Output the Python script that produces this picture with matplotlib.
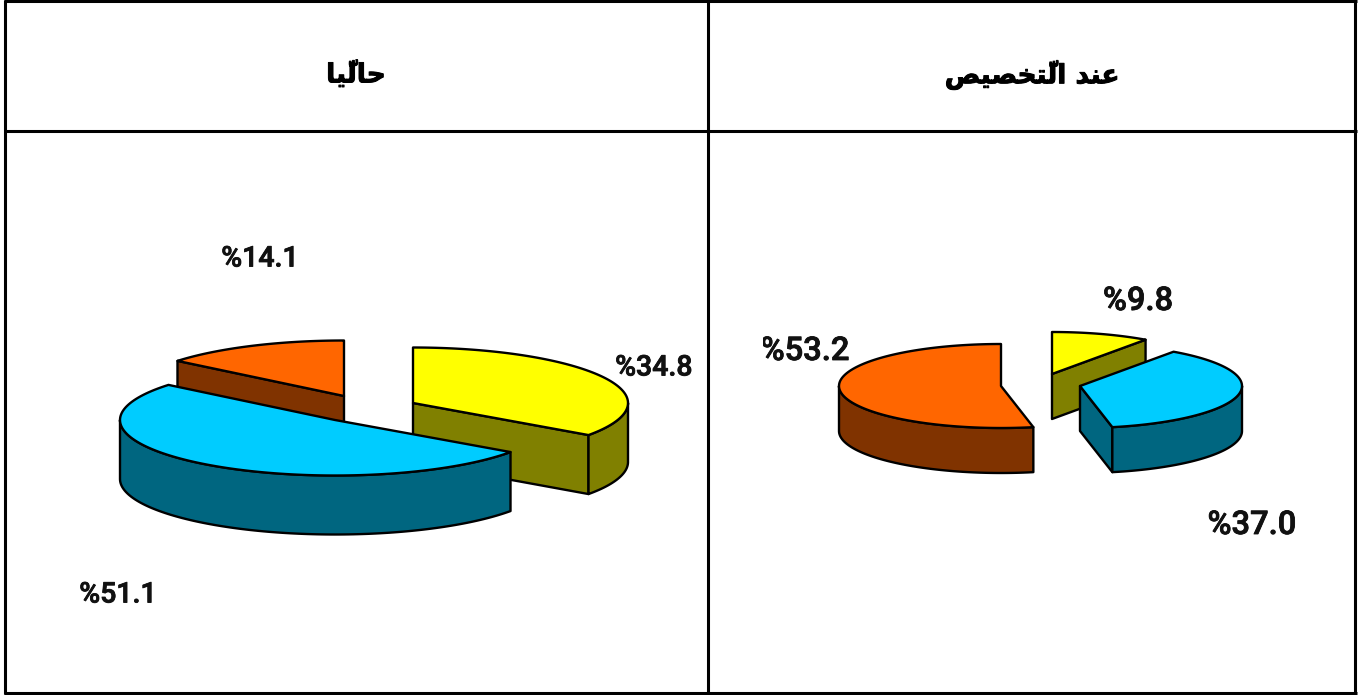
import numpy as np
import matplotlib
matplotlib.use('Agg')
import matplotlib.pyplot as plt
import matplotlib.patheffects as pe
from matplotlib.patches import Polygon
from matplotlib.transforms import Bbox

# share of each slice, same order in both pies
slice_names = ['yellow', 'blue', 'orange']
values_now = [34.8, 51.1, 14.1]
values_start = [9.8, 37.0, 53.2]

# headers are written in shaped presentation forms, left to right, since matplotlib does no shaping
title_now = '\ufe8e\ufef4\u0651\ufedf\ufe8e\ufea3'
title_start = '\ufeba\ufef4\ufebc\ufea8\ufe98\u0651\ufedf\ufe8d \ufeaa\ufee8\ufecb'

top_colors = ['#FFFF00', '#00CCFF', '#FF6600']
side_colors = ['#808000', '#006680', '#803300']

LW = 1.7


def arc(cx, cy, rx, ry, a, b, drop=0):
    t = np.radians(np.linspace(a, b, 120))
    return np.column_stack([cx + rx * np.cos(t), cy - ry * np.sin(t) + drop])


def draw_pie(ax, values, centers, rx, ry, depth):
    # slices run clockwise from 12 o'clock
    ends = 90 - np.cumsum(values) / np.sum(values) * 360
    starts = np.concatenate([[90], ends[:-1]])

    # paint from back to front
    order = sorted(range(len(values)), key=lambda i: centers[i][1])
    for i in order:
        cx, cy = centers[i]
        a, b = starts[i], ends[i]
        style = dict(facecolor=side_colors[i], edgecolor='black', lw=LW, joinstyle='round')

        # cut faces, only those that turn towards the viewer
        for ang, seen in ((a, np.cos(np.radians(a)) < -1e-6), (b, np.cos(np.radians(b)) > 1e-6)):
            if seen:
                px = cx + rx * np.cos(np.radians(ang))
                py = cy - ry * np.sin(np.radians(ang))
                ax.add_patch(Polygon([(cx, cy), (px, py), (px, py + depth), (cx, cy + depth)], **style))

        # outer wall, the part of the rim below the horizontal
        lo = max(b, -180)
        hi = min(a, 0)
        if hi > lo:
            upper = arc(cx, cy, rx, ry, hi, lo)
            lower = arc(cx, cy, rx, ry, lo, hi, depth)
            ax.add_patch(Polygon(np.vstack([upper, lower]), **style))

        # top face
        rim = arc(cx, cy, rx, ry, a, b)
        ax.add_patch(Polygon(np.vstack([[(cx, cy)], rim]), facecolor=top_colors[i],
                             edgecolor='black', lw=LW, joinstyle='round'))


fig = plt.figure(figsize=(13.59, 6.95), dpi=100)
ax = fig.add_axes([0, 0, 1, 1])
ax.set_xlim(0, 1359)
ax.set_ylim(695, 0)
ax.axis('off')

# table frame
for x in (5, 708, 1355):
    ax.plot([x, x], [0, 694], color='black', lw=2.2, solid_capstyle='butt')
for y in (0.5, 131, 693):
    ax.plot([4, 1357], [y, y], color='black', lw=2.2, solid_capstyle='butt')

heavier = [pe.withStroke(linewidth=0.7, foreground='black')]
ax.text(356, 75, title_now, family='DejaVu Sans', weight='bold', fontsize=19, ha='center', va='center',
        path_effects=heavier)
ax.text(1032, 75, title_start, family='DejaVu Sans', weight='bold', fontsize=19, ha='center', va='center',
        path_effects=heavier)

draw_pie(ax, values_now, [(413, 403), (335, 420), (344, 396)], 215, 55.5, 59)
draw_pie(ax, values_start, [(1052, 374), (1080, 386), (1001, 386)], 162, 42, 45)

# value labels
label_pos_now = [(654, 368), (118, 595), (260, 259)]
label_pos_start = [(1138, 301), (1252, 525), (805, 351)]
for vals, spots, size in ((values_now, label_pos_now, 20.5), (values_start, label_pos_start, 23.5)):
    for v, (x, y) in zip(vals, spots):
        t = ax.text(x, y, f'%{v:.1f}', family='Roboto', weight='medium', fontsize=size,
                    ha='center', va='center', color='#111111',
                    path_effects=[pe.withStroke(linewidth=0.6, foreground='#111111')])
        if v == 53.2:
            # the percent sign is cut off in the source picture
            t.set_clip_box(Bbox.from_extents(763, 0, 1359, 695))
            t.set_clip_on(True)

fig.savefig('out.png', dpi=100)
